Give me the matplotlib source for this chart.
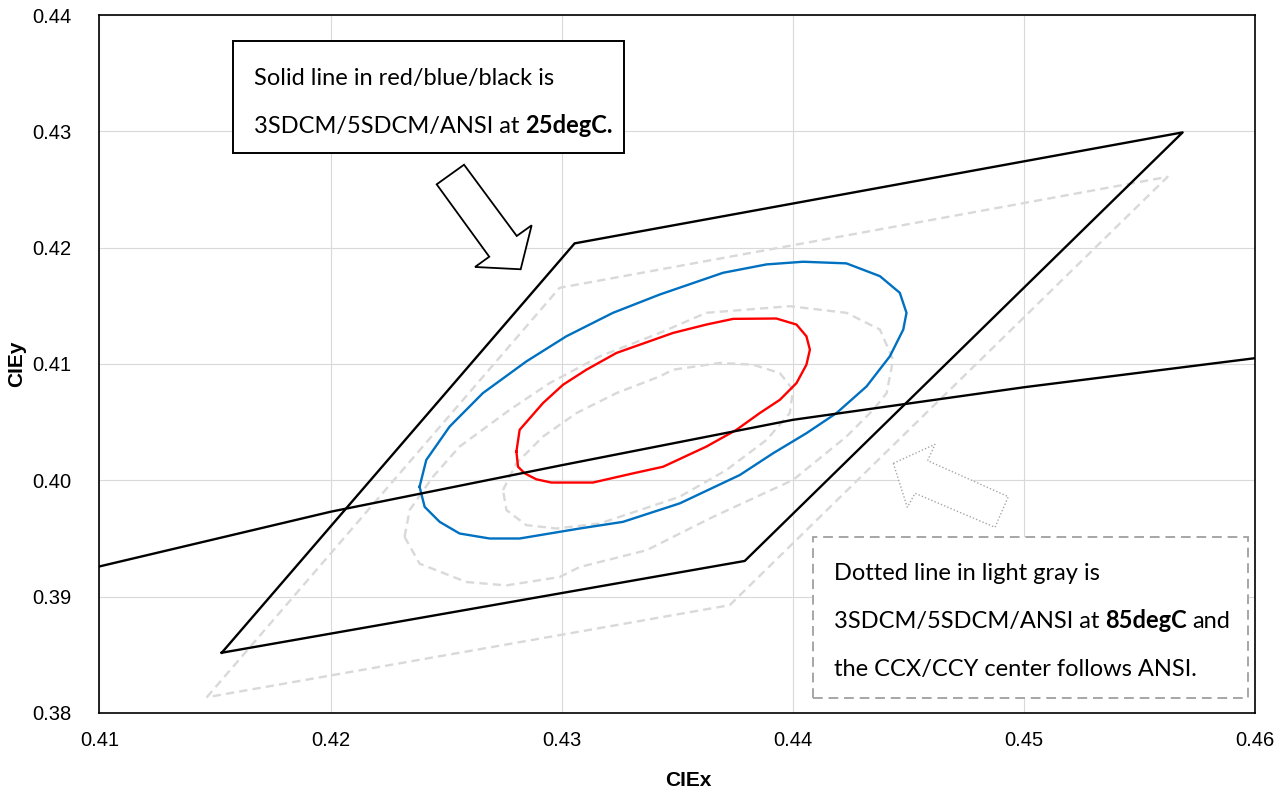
import numpy as np
import matplotlib.pyplot as plt
from matplotlib.patches import Rectangle, Polygon
from matplotlib.ticker import FormatStrFormatter

plt.rcParams['font.family'] = ['Liberation Sans', 'DejaVu Sans']

# ---- data (CIE 1931 x,y) ----
# ANSI quadrangle at 25degC (solid black)
ansi25_x = [0.41529, 0.43056, 0.45687, 0.43792]
ansi25_y = [0.38518, 0.42037, 0.42991, 0.39307]
# ANSI quadrangle at 85degC (dashed gray)
ansi85_x = [0.41464, 0.42991, 0.45622, 0.43727]
ansi85_y = [0.38135, 0.41655, 0.42609, 0.38927]

# black body locus
bbl_x = [0.41, 0.42, 0.43, 0.44, 0.45, 0.46]
bbl_y = [0.3926, 0.3973, 0.4013, 0.4052, 0.4080, 0.4105]

# 3SDCM at 25degC (red)
sdcm3_25_x = [0.42804, 0.42818, 0.42919, 0.43006, 0.43107, 0.43237, 0.43338,
              0.43482, 0.43626, 0.43742, 0.43929, 0.44016, 0.44059, 0.44074,
              0.44059, 0.44016, 0.43944, 0.43857, 0.43756, 0.43626, 0.43439,
              0.43309, 0.43135, 0.42955, 0.42890, 0.42840, 0.42811]
sdcm3_25_y = [0.40247, 0.40434, 0.40664, 0.40822, 0.40951, 0.41095, 0.41166,
              0.41267, 0.41339, 0.41388, 0.41391, 0.41339, 0.41238, 0.41123,
              0.40994, 0.40836, 0.40692, 0.40578, 0.40434, 0.40290, 0.40117,
              0.40060, 0.39981, 0.39981, 0.40009, 0.40060, 0.40117]

# 5SDCM at 25degC (blue)
sdcm5_25_x = [0.42385, 0.42414, 0.42515, 0.42659, 0.42847, 0.43020, 0.43222,
              0.43424, 0.43698, 0.43886, 0.44045, 0.44232, 0.44377, 0.44463,
              0.44492, 0.44478, 0.44420, 0.44319, 0.44189, 0.44059, 0.43915,
              0.43771, 0.43511, 0.43265, 0.43078, 0.42818, 0.42688, 0.42558,
              0.42472, 0.42407]
sdcm5_25_y = [0.39945, 0.40175, 0.40462, 0.40750, 0.41022, 0.41238, 0.41440,
              0.41597, 0.41784, 0.41856, 0.41879, 0.41865, 0.41755, 0.41612,
              0.41440, 0.41296, 0.41066, 0.40807, 0.40578, 0.40405, 0.40233,
              0.40046, 0.39802, 0.39643, 0.39586, 0.39500, 0.39500, 0.39543,
              0.39643, 0.39772]

# 3SDCM at 85degC (gray dashed)
sdcm3_85_x = [0.42746, 0.42804, 0.42919, 0.43064, 0.43237, 0.43424, 0.43482,
              0.43684, 0.43828, 0.43944, 0.44001, 0.43987, 0.43886, 0.43713,
              0.43511, 0.43165, 0.42977, 0.42847, 0.42761]
sdcm3_85_y = [0.39916, 0.40147, 0.40376, 0.40578, 0.40750, 0.40893, 0.40951,
              0.41009, 0.40994, 0.40922, 0.40778, 0.40578, 0.40347, 0.40089,
              0.39859, 0.39629, 0.39586, 0.39615, 0.39744]

# 5SDCM at 85degC (gray dashed)
sdcm5_85_x = [0.42320, 0.42342, 0.42443, 0.42558, 0.42775, 0.42948, 0.43165,
              0.43424, 0.43626, 0.43987, 0.44232, 0.44377, 0.44434, 0.44406,
              0.44348, 0.44232, 0.44001, 0.43655, 0.43367, 0.43078, 0.42991,
              0.42761, 0.42587, 0.42385]
sdcm5_85_y = [0.39514, 0.39744, 0.40031, 0.40290, 0.40606, 0.40836, 0.41066,
              0.41267, 0.41440, 0.41497, 0.41440, 0.41296, 0.41037, 0.40750,
              0.40606, 0.40376, 0.40003, 0.39686, 0.39399, 0.39255, 0.39169,
              0.39097, 0.39126, 0.39284]

x_ticks = [0.41, 0.42, 0.43, 0.44, 0.45, 0.46]
y_ticks = [0.38, 0.39, 0.40, 0.41, 0.42, 0.43, 0.44]


def closed(xs, ys):
    return np.append(xs, xs[0]), np.append(ys, ys[0])


fig = plt.figure(figsize=(12.84, 7.92), dpi=100)
ax = fig.add_axes([0.07749, 0.09975, 0.89992, 0.88131])

gray = '#d9d9d9'
dash = dict(color=gray, lw=1.7, ls=(0, (3.5, 2.2)), solid_joinstyle='round')
solid = dict(lw=1.7, solid_joinstyle='round')

# 85degC (dashed gray)
ax.plot(*closed(ansi85_x, ansi85_y), **dash)
ax.plot(*closed(sdcm3_85_x, sdcm3_85_y), **dash)
ax.plot(*closed(sdcm5_85_x, sdcm5_85_y), **dash)

# 25degC (solid)
ax.plot(*closed(sdcm3_25_x, sdcm3_25_y), color='#ff0000', **solid)
ax.plot(*closed(sdcm5_25_x, sdcm5_25_y), color='#0070c0', **solid)
ax.plot(*closed(ansi25_x, ansi25_y), color='black', **solid)
ax.plot(bbl_x, bbl_y, color='black', **solid)

ax.set_xlim(0.41, 0.46)
ax.set_ylim(0.38, 0.44)
ax.set_xticks(x_ticks)
ax.set_yticks(y_ticks)
ax.xaxis.set_major_formatter(FormatStrFormatter('%.2f'))
ax.yaxis.set_major_formatter(FormatStrFormatter('%.2f'))
ax.tick_params(axis='both', length=0, labelsize=14.5)
ax.tick_params(axis='x', pad=13)
ax.tick_params(axis='y', pad=20)
ax.grid(color=gray, lw=0.8)
ax.set_axisbelow(True)
for s in ax.spines.values():
    s.set_linewidth(1.2)

ax.set_xlabel('CIEx', fontsize=15, fontweight='bold')
ax.set_ylabel('CIEy', fontsize=15, fontweight='bold')
ax.xaxis.set_label_coords(0.510, -0.096)
ax.yaxis.set_label_coords(-0.0714, 0.5)
ax.xaxis.label.set_va('center')
ax.yaxis.label.set_va('center')

# ---- annotation boxes ----
txt_font = 'Lato'
txt_size = 17


def rich_line(x, y, parts):
    t = ax.text(x, y, parts[0][0], transform=ax.transAxes, family=txt_font,
                fontsize=txt_size, fontweight=parts[0][1], va='baseline',
                zorder=6)
    for s, w in parts[1:]:
        t = ax.annotate(s, xy=(1, 0), xycoords=t, xytext=(4, 0),
                        textcoords='offset points', family=txt_font,
                        fontsize=txt_size, fontweight=w, va='bottom',
                        zorder=6)


ax.add_patch(Rectangle((0.1158, 0.8019), 0.3381, 0.1609, transform=ax.transAxes,
                       facecolor='white', edgecolor='black', lw=1.4, zorder=5))
rich_line(0.134, 0.8997, [('Solid line in red/blue/black is', 'normal')])
rich_line(0.134, 0.8305, [('3SDCM/5SDCM/ANSI at', 'normal'),
                          ('25degC.', 'bold')])

ax.add_patch(Rectangle((0.6177, 0.0219), 0.3765, 0.2307, transform=ax.transAxes,
                       facecolor='white', edgecolor='#a6a6a6', lw=1.4,
                       ls=(0, (5, 3)), zorder=5))
rich_line(0.6359, 0.1905, [('Dotted line in light gray is', 'normal')])
rich_line(0.6359, 0.1213, [('3SDCM/5SDCM/ANSI at', 'normal'),
                           ('85degC', 'bold'), ('and', 'normal')])
rich_line(0.6359, 0.0530, [('the CCX/CCY center follows ANSI.', 'normal')])

# block arrows
arrow1 = [(0.2918, 0.7574), (0.3155, 0.7855), (0.3611, 0.6834), (0.3740, 0.6987),
          (0.3645, 0.6357), (0.3250, 0.6390), (0.3373, 0.6537)]
ax.add_patch(Polygon(arrow1, closed=True, transform=ax.transAxes,
                     facecolor='white', edgecolor='black', lw=1.3, zorder=5))
arrow2 = [(0.6870, 0.3577), (0.7231, 0.3850), (0.7167, 0.3615), (0.7865, 0.3099),
          (0.7750, 0.2660), (0.7058, 0.3148), (0.6991, 0.2947)]
ax.add_patch(Polygon(arrow2, closed=True, transform=ax.transAxes,
                     facecolor='white', edgecolor='#a6a6a6', lw=1.0,
                     ls=(0, (1, 1.5)), zorder=5))

fig.savefig('out.png', dpi=100)
